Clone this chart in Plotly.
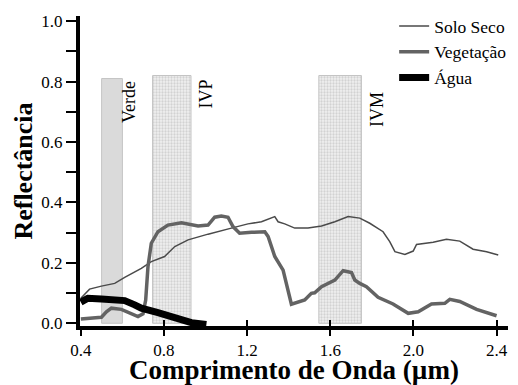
import plotly.graph_objects as go

# ---- data ----
solo_x = [0.40, 0.442, 0.499, 0.563, 0.611, 0.691, 0.739, 0.803, 0.852, 0.916, 1.012, 1.092,
          1.124, 1.204, 1.269, 1.333, 1.349, 1.381, 1.429, 1.493, 1.558, 1.622, 1.686, 1.742,
          1.790, 1.854, 1.886, 1.911, 1.959, 1.999, 2.015, 2.095, 2.159, 2.223, 2.287, 2.352, 2.408]
solo_y = [0.083, 0.113, 0.123, 0.132, 0.152, 0.182, 0.204, 0.221, 0.254, 0.276, 0.295, 0.311,
          0.315, 0.329, 0.336, 0.353, 0.336, 0.329, 0.315, 0.315, 0.322, 0.336, 0.353, 0.348,
          0.331, 0.303, 0.270, 0.237, 0.228, 0.239, 0.261, 0.268, 0.278, 0.272, 0.245, 0.237, 0.226]

veg_x = [0.40, 0.499, 0.523, 0.547, 0.595, 0.643, 0.675, 0.699, 0.712, 0.723, 0.739, 0.771,
         0.819, 0.884, 0.964, 1.012, 1.044, 1.076, 1.108, 1.132, 1.164, 1.221, 1.285, 1.301,
         1.333, 1.373, 1.413, 1.477, 1.509, 1.525, 1.558, 1.622, 1.662, 1.702, 1.718, 1.742,
         1.774, 1.830, 1.902, 1.975, 2.023, 2.087, 2.151, 2.175, 2.223, 2.304, 2.400]
veg_y = [0.014, 0.020, 0.038, 0.050, 0.046, 0.033, 0.022, 0.031, 0.077, 0.187, 0.265, 0.303,
         0.325, 0.333, 0.322, 0.325, 0.351, 0.355, 0.351, 0.320, 0.298, 0.301, 0.303, 0.287,
         0.221, 0.176, 0.063, 0.077, 0.099, 0.101, 0.121, 0.143, 0.174, 0.168, 0.143, 0.132,
         0.121, 0.086, 0.064, 0.033, 0.038, 0.064, 0.066, 0.079, 0.072, 0.046, 0.025]

agua_x = [0.40, 0.434, 0.499, 0.611, 0.659, 0.691, 0.771, 0.852, 0.932, 1.004]
agua_y = [0.070, 0.083, 0.080, 0.075, 0.061, 0.050, 0.035, 0.017, 0.002, -0.004]

band_names = ["Verde", "IVP", "IVM"]
band_x0 = [0.50, 0.745, 1.545]
band_x1 = [0.60, 0.930, 1.750]
band_top = [0.81, 0.82, 0.82]

y_ticks = [0.0, 0.2, 0.4, 0.6, 0.8, 1.0]
y_ticklabels = ["0.0", "0.2", "0.4", "0.6", "0.8", "1.0"]
x_ticks = [0.4, 0.8, 1.2, 1.6, 2.0, 2.4]
x_ticklabels = ["0.4", "0.8", "1.2", "1.6", "2.0", "2.4"]

FONT = "Liberation Serif"

fig = go.Figure()

# bands
for i, name in enumerate(band_names):
    x0, x1, top = band_x0[i], band_x1[i], band_top[i]
    if name == "Verde":
        extra = dict(fillcolor="#dadada")
    else:
        extra = dict(fillcolor="#ececec",
                     fillpattern=dict(shape=".", size=3, solidity=0.45,
                                      fgcolor="#d2d2d2", bgcolor="#f1f1f1"))
    fig.add_trace(go.Scatter(
        x=[x0, x1, x1, x0, x0], y=[0, 0, top, top, 0],
        mode="lines", fill="toself", line=dict(color="#c4c4c4", width=1),
        showlegend=False, hoverinfo="skip", **extra))

fig.add_trace(go.Scatter(x=solo_x, y=solo_y, mode="lines", name="Solo Seco",
                         line=dict(color="#4a4a4a", width=1.5)))
fig.add_trace(go.Scatter(x=veg_x, y=veg_y, mode="lines", name="Vegetação",
                         line=dict(color="#636363", width=3.5)))
fig.add_trace(go.Scatter(x=agua_x, y=agua_y, mode="lines", name="Água",
                         line=dict(color="#000000", width=7)))

# band labels
label_x = [0.635, 1.0, 1.825]
label_y = [0.731, 0.759, 0.706]
for i, name in enumerate(band_names):
    fig.add_annotation(x=label_x[i], y=label_y[i], text=name, textangle=-90,
                       showarrow=False, font=dict(family=FONT, size=18, color="#000"))

# overlay axis for ticks crossing x axis line
fig.add_trace(go.Scatter(x=[0.4], y=[0], xaxis="x2", mode="markers",
                         marker=dict(opacity=0), showlegend=False, hoverinfo="skip"))

# page body has an 8px margin: figure is 8px smaller and margins shifted accordingly
fig.update_layout(
    template="none",
    width=510, height=377,
    margin=dict(l=72, r=10, t=8, b=59, autoexpand=False),
    paper_bgcolor="white", plot_bgcolor="white",
    font=dict(family=FONT, size=17, color="#000"),
    legend=dict(x=0.734, y=1.0258, xanchor="left", yanchor="top",
                font=dict(family=FONT, size=17.5, color="#000"), bgcolor="rgba(0,0,0,0)",
                itemwidth=30, tracegroupgap=0, borderwidth=0),
    xaxis=dict(range=[0.396, 2.455], tickvals=x_ticks, ticktext=x_ticklabels, automargin=False,
               showline=True, linewidth=4, linecolor="#000", showgrid=False, zeroline=False,
               ticks="outside", ticklen=6, tickwidth=1.5, tickcolor="#000",
               tickfont=dict(family=FONT, size=17),
               title=dict(text="<b>Comprimento de Onda (µm)</b>", font=dict(family=FONT, size=27),
                          standoff=5)),
    xaxis2=dict(overlaying="x", matches="x", range=[0.396, 2.455], tickvals=x_ticks,
                automargin=False,
                showticklabels=False, ticks="inside", ticklen=6, tickwidth=1.5, tickcolor="#000",
                showgrid=False, zeroline=False, showline=False, side="bottom"),
    yaxis=dict(range=[-0.009, 1.017], tickvals=y_ticks, ticktext=y_ticklabels, automargin=False,
               showline=True, linewidth=4, linecolor="#000", showgrid=False, zeroline=False,
               ticks="outside", ticklen=10, tickwidth=1.5, tickcolor="#000",
               minor=dict(tickvals=[0.1, 0.3, 0.5, 0.7, 0.9], ticks="outside", ticklen=10,
                          tickwidth=1.5, tickcolor="#000"),
               tickfont=dict(family=FONT, size=17),
               title=dict(text="<b>Reflectância</b>", font=dict(family=FONT, size=26),
                          standoff=2)),
)

fig.write_html("out.html")
